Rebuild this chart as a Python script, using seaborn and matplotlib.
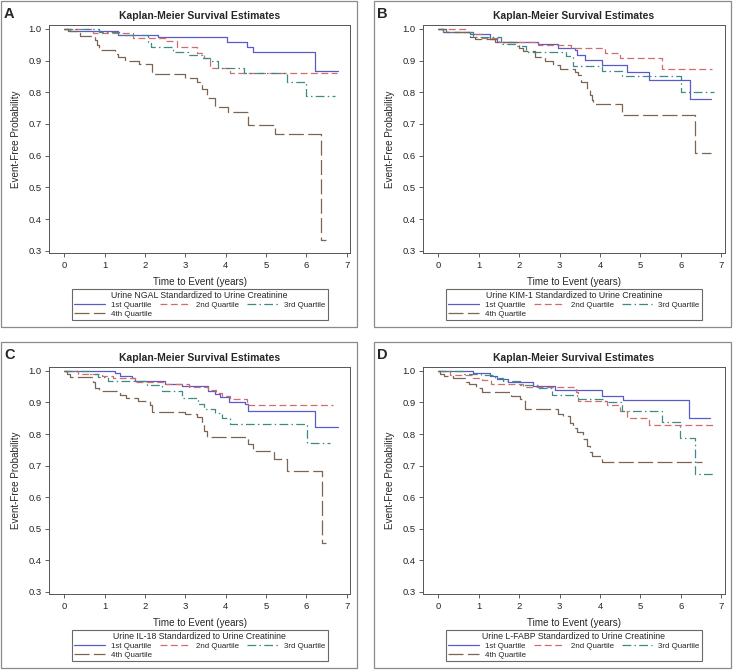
import numpy as np
import pandas as pd
import matplotlib
matplotlib.use("Agg")
import matplotlib.pyplot as plt
from matplotlib.lines import Line2D
from matplotlib.patches import Rectangle
import seaborn as sns

# ---------------- data ----------------
groups = ["1st Quartile", "2nd Quartile", "3rd Quartile", "4th Quartile"]
panel_letters = ["A", "B", "C", "D"]
legend_titles = [
    "Urine NGAL Standardized to Urine Creatinine",
    "Urine KIM-1 Standardized to Urine Creatinine",
    "Urine IL-18 Standardized to Urine Creatinine",
    "Urine L-FABP Standardized to Urine Creatinine",
]
x_ticks = [0, 1, 2, 3, 4, 5, 6, 7]
y_ticks = [0.3, 0.4, 0.5, 0.6, 0.7, 0.8, 0.9, 1.0]

# Panel A (NGAL)
A_q1_t = [0, 0.14, 1.34, 2.33, 4.03, 4.52, 4.67, 6.22, 6.79]
A_q1_s = [1.0, 0.993, 0.982, 0.974, 0.958, 0.944, 0.926, 0.868, 0.868]
A_q2_t = [0, 0.72, 1.71, 2.50, 2.79, 3.30, 3.45, 3.61, 4.11, 6.75]
A_q2_s = [1.0, 0.986, 0.970, 0.962, 0.944, 0.925, 0.908, 0.876, 0.860, 0.860]
A_q3_t = [0, 0.85, 1.35, 2.08, 2.15, 2.70, 3.07, 3.41, 3.60, 3.82, 4.45, 5.51, 5.98, 6.71]
A_q3_s = [1.0, 0.990, 0.981, 0.960, 0.944, 0.926, 0.917, 0.907, 0.900, 0.877, 0.860, 0.833, 0.787, 0.787]
A_q4_t = [0, 0.10, 0.38, 0.76, 0.80, 0.87, 1.26, 1.32, 1.50, 1.84, 2.17, 2.99, 3.28, 3.41,
          3.53, 3.73, 4.06, 4.55, 5.22, 6.35, 6.49]
A_q4_s = [1.0, 0.993, 0.978, 0.965, 0.950, 0.934, 0.922, 0.910, 0.900, 0.889, 0.857, 0.846,
          0.832, 0.812, 0.783, 0.754, 0.738, 0.698, 0.668, 0.334, 0.334]

# Panel B (KIM-1)
B_q1_t = [0, 0.12, 0.78, 1.27, 1.45, 2.47, 2.97, 3.38, 3.43, 3.63, 4.04, 4.66, 5.20, 6.23, 6.74]
B_q1_s = [1.0, 0.991, 0.983, 0.968, 0.960, 0.951, 0.941, 0.934, 0.918, 0.902, 0.886, 0.865,
          0.839, 0.778, 0.778]
B_q2_t = [0, 0.69, 0.90, 1.07, 1.50, 2.47, 3.29, 4.12, 4.50, 5.53, 6.77]
B_q2_s = [1.0, 0.990, 0.983, 0.972, 0.960, 0.950, 0.939, 0.923, 0.907, 0.875, 0.875]
B_q3_t = [0, 0.12, 0.85, 1.56, 1.93, 2.18, 3.17, 3.34, 4.04, 4.54, 6.00, 6.81]
B_q3_s = [1.0, 0.990, 0.975, 0.954, 0.945, 0.927, 0.915, 0.884, 0.867, 0.852, 0.800, 0.800]
B_q4_t = [0, 0.20, 0.78, 0.90, 1.40, 2.00, 2.10, 2.39, 2.64, 2.84, 3.01, 3.38, 3.46, 3.54,
          3.67, 3.75, 3.79, 3.83, 4.54, 6.36, 6.75]
B_q4_s = [1.0, 0.990, 0.976, 0.968, 0.960, 0.940, 0.930, 0.912, 0.898, 0.886, 0.875, 0.865,
          0.855, 0.833, 0.812, 0.791, 0.775, 0.763, 0.728, 0.607, 0.607]

# Panel C (IL-18)
C_q1_t = [0, 1.26, 1.38, 1.67, 1.75, 2.50, 2.91, 3.57, 3.74, 3.85, 4.07, 4.48, 4.55, 6.22, 6.79]
C_q1_s = [1.0, 0.992, 0.985, 0.978, 0.969, 0.958, 0.951, 0.937, 0.927, 0.916, 0.902, 0.895,
          0.873, 0.823, 0.823]
C_q2_t = [0, 0.35, 0.93, 1.21, 1.75, 2.50, 3.08, 3.57, 3.75, 3.91, 4.10, 4.52, 6.67]
C_q2_s = [1.0, 0.990, 0.985, 0.978, 0.966, 0.959, 0.950, 0.941, 0.930, 0.920, 0.910, 0.891, 0.891]
C_q3_t = [0, 0.60, 0.84, 1.09, 2.04, 2.41, 2.91, 3.32, 3.45, 3.74, 3.90, 4.11, 6.01, 6.59]
C_q3_s = [1.0, 0.990, 0.981, 0.967, 0.957, 0.937, 0.915, 0.895, 0.880, 0.866, 0.852, 0.833,
          0.770, 0.770]
C_q4_t = [0, 0.07, 0.14, 0.72, 0.76, 0.86, 1.38, 1.54, 1.83, 2.12, 2.17, 3.00, 3.29, 3.41,
          3.45, 3.53, 4.56, 4.68, 5.20, 5.51, 6.38, 6.49]
C_q4_s = [1.0, 0.990, 0.982, 0.964, 0.946, 0.936, 0.923, 0.913, 0.905, 0.892, 0.871, 0.863,
          0.853, 0.832, 0.811, 0.789, 0.768, 0.747, 0.720, 0.683, 0.453, 0.453]

# Panel D (L-FABP)
D_q1_t = [0, 0.86, 1.27, 1.44, 1.73, 2.35, 2.88, 4.04, 4.58, 6.21, 6.73]
D_q1_s = [1.0, 0.992, 0.984, 0.975, 0.966, 0.953, 0.940, 0.922, 0.907, 0.850, 0.850]
D_q2_t = [0, 0.30, 0.86, 1.07, 1.31, 2.10, 3.40, 3.45, 4.17, 4.50, 4.66, 5.20, 6.81]
D_q2_s = [1.0, 0.988, 0.977, 0.970, 0.958, 0.950, 0.933, 0.905, 0.891, 0.873, 0.850, 0.828, 0.828]
D_q3_t = [0, 0.60, 1.05, 1.40, 1.60, 2.02, 2.47, 2.80, 3.42, 4.12, 4.54, 5.53, 5.98, 6.36, 6.79]
D_q3_s = [1.0, 0.990, 0.986, 0.978, 0.968, 0.955, 0.945, 0.925, 0.910, 0.900, 0.873, 0.839,
          0.786, 0.672, 0.672]
D_q4_t = [0, 0.05, 0.15, 0.36, 0.69, 0.77, 0.94, 1.07, 1.81, 2.02, 2.14, 2.97, 3.09, 3.26,
          3.34, 3.42, 3.59, 3.67, 3.75, 3.80, 4.04, 6.52]
D_q4_s = [1.0, 0.990, 0.985, 0.977, 0.966, 0.958, 0.946, 0.933, 0.920, 0.910, 0.880, 0.862,
          0.857, 0.836, 0.820, 0.805, 0.784, 0.763, 0.742, 0.729, 0.712, 0.712]

panels = [
    [(A_q1_t, A_q1_s), (A_q2_t, A_q2_s), (A_q3_t, A_q3_s), (A_q4_t, A_q4_s)],
    [(B_q1_t, B_q1_s), (B_q2_t, B_q2_s), (B_q3_t, B_q3_s), (B_q4_t, B_q4_s)],
    [(C_q1_t, C_q1_s), (C_q2_t, C_q2_s), (C_q3_t, C_q3_s), (C_q4_t, C_q4_s)],
    [(D_q1_t, D_q1_s), (D_q2_t, D_q2_s), (D_q3_t, D_q3_s), (D_q4_t, D_q4_s)],
]

# ---------------- style ----------------
sns.set_style("ticks")
plt.rcParams["font.family"] = ["Liberation Sans", "DejaVu Sans"]

palette = {
    "1st Quartile": "#5a5ac8",
    "2nd Quartile": "#d06c6c",
    "3rd Quartile": "#3b8c85",
    "4th Quartile": "#7a6553",
}
dashes = {
    "1st Quartile": "",
    "2nd Quartile": (5.5, 2.8),
    "3rd Quartile": (7, 2.6, 1.2, 2.6),
    "4th Quartile": (12, 3.5),
}
LW = 0.9

W, H = 733, 671
fig = plt.figure(figsize=(W / 100, H / 100), dpi=100)

def fx(px):
    return px / W

def fy(py):
    return 1 - py / H

# panel frames (pixel coords: left, top, right, bottom)
frames = [(1, 1, 357, 327), (374, 1, 731, 327), (1, 342, 357, 668), (374, 342, 731, 668)]
# axes boxes (pixel coords)
axboxes = [(49.3, 25, 350, 253), (423.3, 25, 724.5, 253),
           (49.3, 367, 350, 594), (423.3, 367, 724.5, 594)]

for (l, t, r, b) in frames:
    fig.patches.append(Rectangle((fx(l), fy(b)), fx(r) - fx(l), fy(t) - fy(b),
                                 transform=fig.transFigure, fill=False,
                                 edgecolor="#8a8a8a", linewidth=0.9))

for i in range(4):
    l, t, r, b = axboxes[i]
    ax = fig.add_axes([fx(l), fy(b), fx(r) - fx(l), fy(t) - fy(b)])
    rows = []
    for g, (ts, ss) in zip(groups, panels[i]):
        for tt, sv in zip(ts, ss):
            rows.append({"time": tt, "surv": sv, "group": g})
    df = pd.DataFrame(rows)
    sns.lineplot(data=df, x="time", y="surv", hue="group", style="group",
                 hue_order=groups, style_order=groups, palette=palette,
                 dashes=dashes, estimator=None, sort=False,
                 drawstyle="steps-post", linewidth=LW, legend=False, ax=ax)

    ax.set_xlim(-0.372, 7.08)
    ax.set_ylim(0.2927, 1.0125)
    ax.set_xticks(x_ticks)
    ax.set_yticks(y_ticks)
    ax.set_yticklabels([f"{v:.1f}" for v in y_ticks])
    ax.tick_params(axis="both", labelsize=6.8, length=3, width=0.6,
                   color="#444444", pad=2.5)
    for sp in ax.spines.values():
        sp.set_linewidth(0.7)
        sp.set_color("#555555")
    ax.set_xlabel("Time to Event (years)", fontsize=7.1, labelpad=5)
    ax.set_ylabel("Event-Free Probability", fontsize=7.1, labelpad=5)
    ax.set_title("Kaplan-Meier Survival Estimates", fontsize=7.5,
                 fontweight="bold", pad=4)

    fl, ft, fr, fb = frames[i]
    fig.text(fx(fl + 3), fy(ft + 6), panel_letters[i], fontsize=10.5,
             fontweight="bold", ha="left", va="top")

    # legend (row-wise order: 1st, 2nd, 3rd / 4th)
    handles = []
    for g in groups:
        d = dashes[g]
        if d == "":
            h = Line2D([], [], color=palette[g], lw=LW, linestyle="-")
        else:
            h = Line2D([], [], color=palette[g], lw=LW, dashes=d)
        handles.append(h)
    order = [0, 3, 1, 2]
    cx = (l + r) / 2
    leg = fig.legend([handles[k] for k in order], [groups[k] for k in order],
                     ncol=3, loc="upper center",
                     bbox_to_anchor=(fx(cx), fy(b + 36)),
                     bbox_transform=fig.transFigure,
                     title=legend_titles[i], title_fontsize=6.3, fontsize=5.7,
                     frameon=True, fancybox=False, edgecolor="#444444",
                     handlelength=3.9, handletextpad=0.75, columnspacing=1.0,
                     labelspacing=0.15, borderpad=0.3, borderaxespad=0)
    leg.get_frame().set_linewidth(0.8)
    leg._legend_box.align = "center"

fig.savefig("out.png", dpi=100)
